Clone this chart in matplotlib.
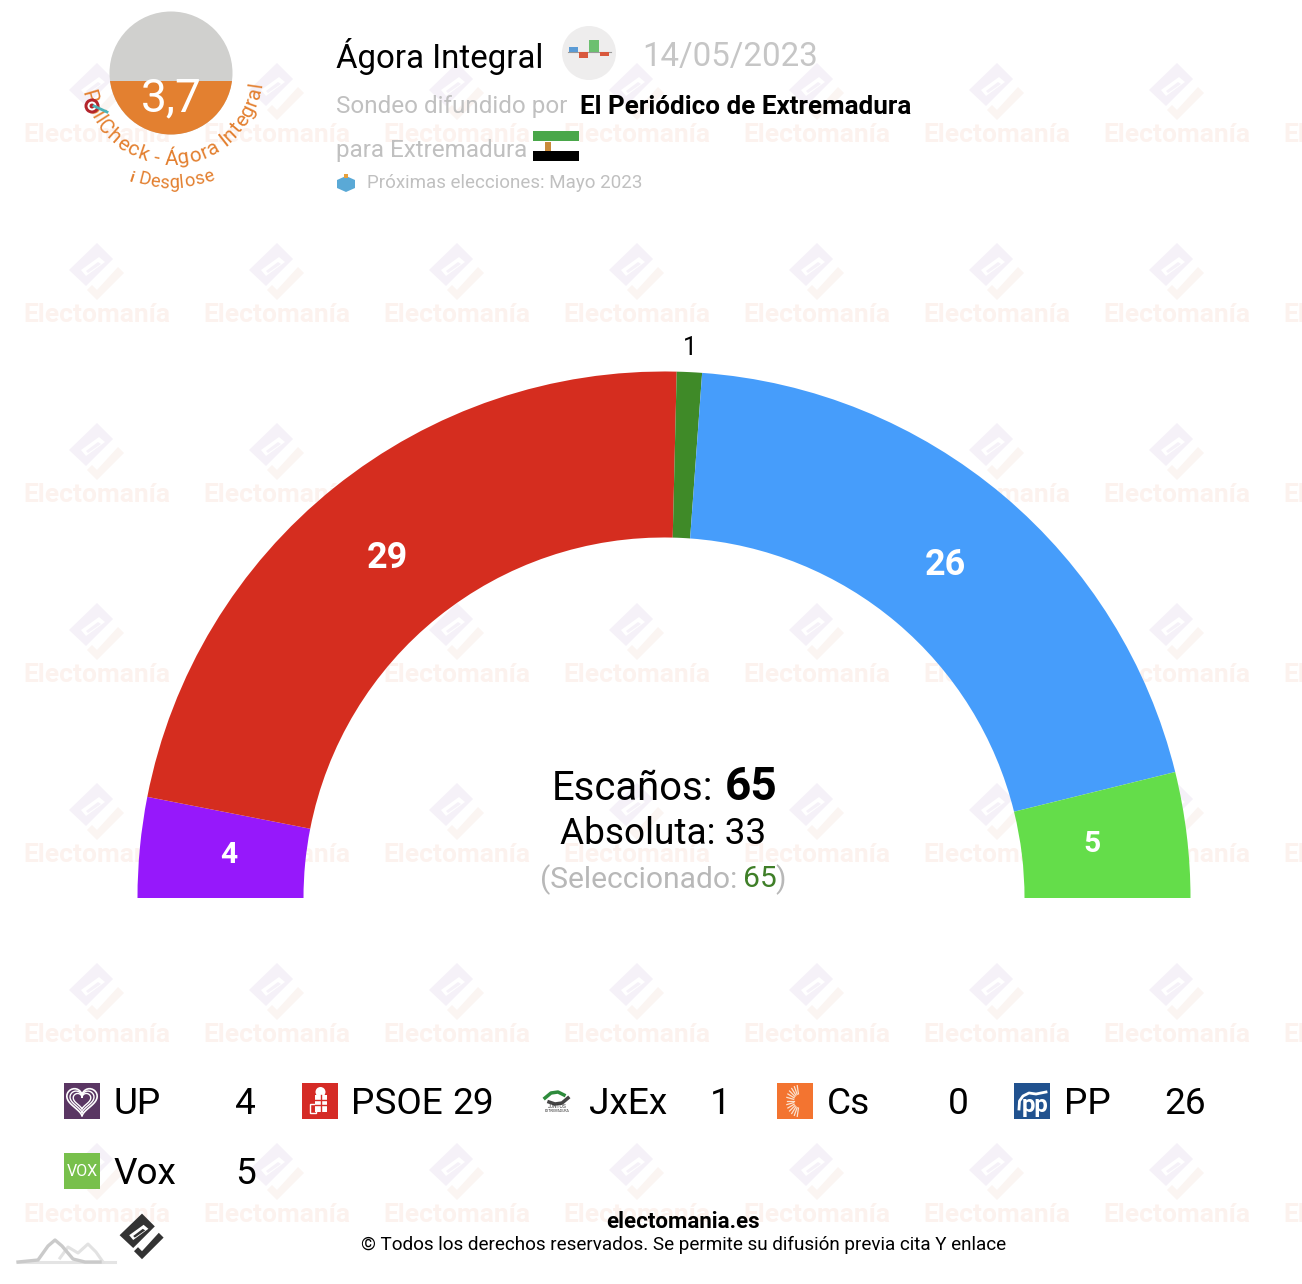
import numpy as np
import matplotlib
matplotlib.use('Agg')
import matplotlib.pyplot as plt
from matplotlib.patches import Wedge, Circle, Rectangle, Polygon
from matplotlib.textpath import TextPath
from matplotlib.font_manager import FontProperties

# datos del sondeo
partidos = ['UP', 'PSOE', 'JxEx', 'Cs', 'PP', 'Vox']
escanos = [4, 29, 1, 0, 26, 5]
colores = ['#9618fb', '#d52d1f', '#3f8a28', '#f37430', '#469dfb', '#64dd4a']
colores_logo = ['#5a3663', '#d52b26', '#ffffff', '#f37430', '#21528f', '#78c04c']
etiquetas_color = ['white', 'white', 'black', 'white', 'white', 'white']
total = 65
absoluta = 33
nota = '3,7'

W, H = 1302, 1284
plt.rcParams['font.family'] = ['Roboto', 'DejaVu Sans']

fig = plt.figure(figsize=(W / 100, H / 100), dpi=100)
ax = fig.add_axes([0, 0, 1, 1])
ax.set_xlim(0, W)
ax.set_ylim(0, H)
ax.axis('off')


def Y(py):
    return H - py


def t(x, y, s, px, color='black', ha='left', weight='normal', rot=0, z=5):
    return ax.text(x, Y(y), s, fontsize=px * 0.72, color=color, ha=ha, va='center_baseline',
                   fontweight=weight, rotation=rot, rotation_mode='anchor', zorder=z)


def poly(pts, cx, cy, k, color, z):
    xy = [(cx + a * k, Y(cy + b * k)) for a, b in pts]
    ax.add_patch(Polygon(xy, closed=True, fc=color, ec='none', zorder=z))


# logo de electomania (marca de agua y pie)
ROMBO = [(0, -28), (16, -12), (-11, 15), (-28, -1)]
HUECO = [(2, -14), (8, -9), (-11, 5), (-16, -1)]
BARRA = [(1, -9), (4, -7), (-9, 2), (-11, 0)]
CHECK = [(21, -4), (27, 2), (0, 29), (-10, 19), (-5, 14), (0, 19)]


def logo(cx, cy, k, c1, c2, z):
    poly(ROMBO, cx, cy, k, c1, z)
    poly(HUECO, cx, cy, k, 'white', z)
    poly(BARRA, cx, cy, k, c1, z)
    poly(CHECK, cx, cy, k, c2, z)


for fila in range(7):
    for col in range(8):
        logo(97 + 180 * col, 91 + 180 * fila, 1, '#f5f1f8', '#fbf5f2', 1)
        t(97 + 180 * col, 132 + 180 * fila, 'Electomanía', 26.4, color='#fcf2ee', ha='center', weight='bold', z=1)

# hemiciclo
cx, cy = 664, 898
r_ext, r_int = 526.5, 360.5
ajuste_x = [-1, -4, -1, 0, 0, -5]
acum = 0
for i in range(len(partidos)):
    if escanos[i] == 0:
        continue
    a2 = 180 - acum / total * 180
    a1 = 180 - (acum + escanos[i]) / total * 180
    ax.add_patch(Wedge((cx, Y(cy)), r_ext, a1, a2, width=r_ext - r_int, fc=colores[i], ec='none', zorder=3))
    med = np.radians((a1 + a2) / 2)
    r_et = 553 if escanos[i] == 1 else 436
    dy = 0 if escanos[i] == 1 else -4
    px = 25 if escanos[i] == 1 else (36 if escanos[i] > 9 else 30)
    t(cx + r_et * np.cos(med) + ajuste_x[i], cy - r_et * np.sin(med) + dy, str(escanos[i]), px,
      color=etiquetas_color[i], ha='center', weight='normal' if escanos[i] == 1 else 'bold')
    acum += escanos[i]

# textos centrales
t(713.5, 784, 'Escaños:', 40, ha='right')
t(725, 783, str(total), 46, weight='bold')
t(663.5, 830, 'Absoluta: ' + str(absoluta), 37, ha='center')
t(540, 876, '(Seleccionado:', 30, color='#b8b8b8')
t(743, 876, str(total), 30, color='#3f7f28')
t(775, 876, ')', 30, color='#b8b8b8')

# indicador de nota
gcx, gcy, gr = 171, 73, 61.5
ax.add_patch(Circle((gcx, Y(gcy)), gr, fc='#d0d0ce', ec='none', zorder=3))
naranja = Circle((gcx, Y(gcy)), gr, fc='#e38030', ec='none', zorder=4)
ax.add_patch(naranja)
recorte = Rectangle((0, 0), W, Y(81), transform=ax.transData)
naranja.set_clip_path(recorte)
t(gcx, 94, nota, 46, color='white', ha='center', z=6)


def arco(s, r, th0, px, z=7):
    # texto curvo, letra a letra
    fp = FontProperties(family='Roboto')
    anchos = []
    for k in range(len(s)):
        w0 = TextPath((0, 0), s[:k + 1], size=px, prop=fp).get_extents().x1 if s[:k + 1].strip() else 0
        anchos.append(w0)
    pos = 0
    for k, c in enumerate(s):
        w = anchos[k] - pos if anchos[k] > pos else px * 0.25
        ang = th0 + (pos + w / 2) / r
        x = gcx + r * np.sin(ang)
        y = gcy + r * np.cos(ang)
        ax.text(x, Y(y), c, fontsize=px * 0.72, color='#e38030', ha='center', va='center_baseline',
                rotation=np.degrees(ang), rotation_mode='anchor', zorder=z)
        pos += w


arco('PollCheck - Ágora Integral', 84, np.radians(-78), 20.7)
arco('Desglose', 108, np.radians(-17), 18.3)
t(132, 176, 'i', 15, color='#e38030', weight='bold', rot=-18, ha='center')
# diana
ax.add_patch(Circle((92, Y(106)), 7.5, fc='#b3242b', ec='none', zorder=8))
ax.add_patch(Circle((92, Y(106)), 4.5, fc='white', ec='none', zorder=8))
ax.add_patch(Circle((92, Y(106)), 2.5, fc='#b3242b', ec='none', zorder=8))
ax.plot([94, 107], [Y(106), Y(112)], color='#4cb3b8', lw=2, zorder=8)

# cabecera
t(336, 53, 'Ágora Integral', 33)
ax.add_patch(Circle((589, Y(53)), 27, fc='#eeeded', ec='none', zorder=3))
ax.plot([568, 611], [Y(52), Y(52)], color='#999999', lw=0.8, zorder=4)
for bx, by, bw, bh, bc in [(569, 47, 9, 5, '#5b9bd5'), (579, 52, 9, 6, '#d9593d'), (589, 40, 10, 12, '#6cc070'), (600, 52, 9, 4, '#d9593d')]:
    ax.add_patch(Rectangle((bx, Y(by + bh)), bw, bh, fc=bc, ec='none', zorder=4))
t(642, 54, '14/05/2023', 33, color='#c6c6c6')
t(336, 104, 'Sondeo difundido por', 24.2, color='#c0c0c0')
t(580, 104, 'El Periódico de Extremadura', 26, weight='bold')
t(336, 148, 'para Extremadura', 24.2, color='#c0c0c0')
ax.add_patch(Rectangle((533, Y(141)), 46, 10, fc='#4aa74a', ec='none', zorder=3))
ax.add_patch(Rectangle((533, Y(151)), 46, 10, fc='white', ec='none', zorder=3))
ax.add_patch(Rectangle((533, Y(161)), 46, 10, fc='black', ec='none', zorder=3))
ax.add_patch(Rectangle((545, Y(151)), 6, 9, fc='#c98a3a', ec='none', zorder=4))
t(367, 181, 'Próximas elecciones: Mayo 2023', 18.8, color='#c0c0c0')
# urna
poly([(-9, -3), (0, -7), (9, -3), (9, 5), (0, 9), (-9, 5)], 346, 183, 1, '#5aa9d6', 4)
poly([(-2, -9), (2, -9), (2, -5), (-2, -5)], 346, 183, 1, '#e8a13c', 5)

# leyenda
for i in range(len(partidos)):
    x0 = 64 + 237.5 * (i % 5)
    y0 = 1083 + 70 * (i // 5)
    ax.add_patch(Rectangle((x0, Y(y0 + 36)), 36, 36, fc=colores_logo[i], ec='none', zorder=4))
    ym = y0 + 17
    t(x0 + 50 - (1 if i == 5 else 0), ym, partidos[i], 37)
    t(x0 + 192, ym, str(escanos[i]), 37, ha='right')

# dibujos de los logos
s = np.linspace(0, 2 * np.pi, 60)
hx = 16 * np.sin(s) ** 3
hy = 13 * np.cos(s) - 5 * np.cos(2 * s) - 2 * np.cos(3 * s) - np.cos(4 * s)
for k, g in [(0.95, 1.2), (0.75, 1.0), (0.55, 1.0)]:
    ax.plot(82 + hx * k, Y(1101) + hy * k + 1, color='white', lw=g, zorder=5)
x0 = 301.5
ax.add_patch(Circle((x0 + 19, Y(1092)), 5, fc='white', ec='none', zorder=5))
ax.add_patch(Rectangle((x0 + 13, Y(1112)), 12, 17, fc='white', ec='none', zorder=5))
ax.add_patch(Rectangle((x0 + 8, Y(1113)), 6, 9, fc='none', ec='white', lw=1, zorder=5))
ax.plot([x0 + 13, x0 + 25], [Y(1100), Y(1100)], color='#d52b26', lw=1, zorder=6)
ax.plot([x0 + 13, x0 + 25], [Y(1105), Y(1105)], color='#d52b26', lw=1, zorder=6)
ax.plot([x0 + 19, x0 + 19], [Y(1095), Y(1112)], color='#d52b26', lw=1, zorder=6)
# JxEx
x0 = 539
ax.plot(x0 + np.array([6, 12, 19, 25]), Y(np.array([1098, 1093, 1092, 1095])), color='#2e8b3c', lw=2.5, zorder=5)
ax.plot(x0 + np.array([10, 16, 23, 29]), Y(np.array([1102, 1104, 1103, 1098])), color='#444444', lw=2.5, zorder=5)
t(x0 + 18, 1106, 'JUNTOS', 5, color='#333333', ha='center')
t(x0 + 18, 1110, 'EXTREMADURA', 3.5, color='#333333', ha='center')
# Cs
x0 = 776.5
for a in np.radians(np.linspace(100, 260, 13)):
    ax.plot([x0 + 23 + 6 * np.cos(a), x0 + 23 + 13 * np.cos(a)],
            [Y(1101) + 6 * np.sin(a) * 1.2, Y(1101) + 13 * np.sin(a) * 1.2], color='#fbe3d0', lw=0.9, zorder=5)
# PP y Vox
t(1035, 1103, 'pp', 24, color='white', ha='center', weight='bold')
ax.plot([1019, 1019.5, 1023, 1029, 1036, 1046], Y(np.array([1109, 1101, 1096, 1093, 1094, 1092])),
        color='white', lw=2, zorder=5)
t(82, 1170, 'VOX', 16, color='white', ha='center')

# pie
t(683, 1219, 'electomania.es', 22.3, ha='center', weight='bold')
t(683.5, 1243, '© Todos los derechos reservados. Se permite su difusión previa cita Y enlace', 18.9, ha='center')
logo(142, 1236, 0.8, '#333333', '#333333', 5)
ax.plot([18, 115], [Y(1262), Y(1262)], color='#e4e4e4', lw=2.2, zorder=4)
ax.plot([18, 38, 48, 55, 62, 73, 85, 100], Y(np.array([1262, 1260, 1246, 1240, 1246, 1259, 1262, 1262])),
        color='#cacaca', lw=2.4, zorder=5)
ax.plot([60, 68, 78, 88, 96, 103], Y(np.array([1258, 1247, 1253, 1244, 1252, 1262])),
        color='#e2e2e2', lw=2.2, zorder=4)

fig.savefig('out.png', dpi=100, facecolor='white')
